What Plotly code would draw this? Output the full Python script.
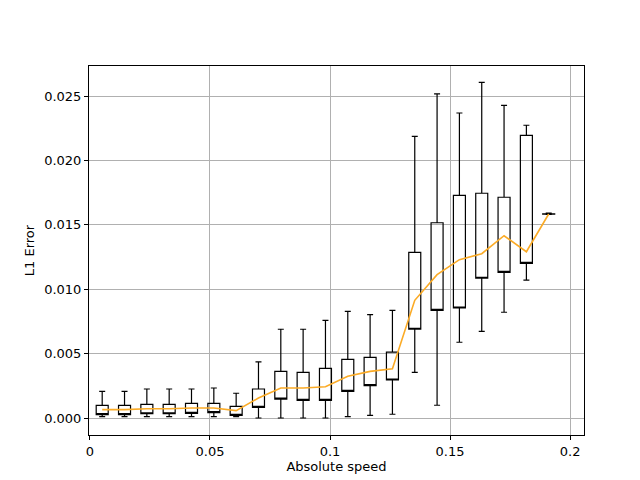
import plotly.graph_objects as go

# Box positions (absolute speed bin centres)
positions = [0.0051 + 0.0093 * i for i in range(21)]

# Box statistics
upper = [0.00207, 0.00207, 0.00225, 0.00225, 0.00225, 0.00233, 0.00192, 0.00435, 0.00689, 0.00689,
         0.00758, 0.00828, 0.00802, 0.00836, 0.02187, 0.02516, 0.02368, 0.02606, 0.02428, 0.02273, 0.01590]
q3 = [0.00098, 0.00098, 0.00106, 0.00106, 0.00114, 0.00114, 0.00091, 0.00225, 0.00362, 0.00355,
      0.00386, 0.00455, 0.00471, 0.00512, 0.01286, 0.01516, 0.01729, 0.01745, 0.01714, 0.02195, 0.01586]
q1 = [0.00026, 0.00026, 0.00033, 0.00033, 0.00036, 0.00041, 0.00021, 0.00083, 0.00147, 0.00137,
      0.00137, 0.00207, 0.00251, 0.00295, 0.00689, 0.00836, 0.00854, 0.01085, 0.01131, 0.01201, 0.01582]
lower = [0.0001, 0.0001, 0.0001, 0.0001, 0.0001, 0.0001, 0.0001, 0.0000, 0.0000, 0.0000,
         0.0000, 0.0001, 0.0002, 0.00029, 0.00355, 0.00099, 0.00588, 0.00673, 0.00821, 0.01071, 0.01580]
trend = [0.00065, 0.00065, 0.00072, 0.00072, 0.00078, 0.00078, 0.00057, 0.00155, 0.00233, 0.00233,
         0.00243, 0.00324, 0.00362, 0.00383, 0.00914, 0.01113, 0.01229, 0.01276, 0.01415, 0.01291, 0.01584]

fig = go.Figure()

for i, pos in enumerate(positions):
    fig.add_trace(go.Box(
        x=[pos], q1=[q1[i]], median=[q1[i]], q3=[q3[i]],
        lowerfence=[lower[i]], upperfence=[upper[i]],
        width=0.005, whiskerwidth=0.5,
        fillcolor="rgba(0,0,0,0)",
        line=dict(color="black", width=1.2),
        boxpoints=False, hoverinfo="skip", showlegend=False,
    ))

fig.add_trace(go.Scatter(
    x=positions, y=trend, mode="lines",
    line=dict(color="#fbab26", width=1.6), showlegend=False,
))

axis_style = dict(
    showgrid=True, gridcolor="#b0b0b0", gridwidth=1,
    showline=True, linecolor="black", linewidth=1, mirror=True,
    ticks="outside", ticklen=4, tickcolor="black", zeroline=False,
    tickfont=dict(size=13, color="black"), automargin=False,
)

fig.update_layout(
    width=640, height=480,
    margin=dict(l=81, r=64, t=58, b=53),
    plot_bgcolor="white", paper_bgcolor="white",
    font=dict(family="DejaVu Sans", size=13, color="black"),
    xaxis=dict(range=[-0.0004, 0.2058], tickvals=[0, 0.05, 0.1, 0.15, 0.2],
               ticktext=["0", "0.05", "0.1", "0.15", "0.2"],
               title=dict(text="Absolute speed", standoff=4, font=dict(size=13)), **axis_style),
    yaxis=dict(range=[-0.00132, 0.02733], tickvals=[0, 0.005, 0.01, 0.015, 0.02, 0.025],
               tickformat=".3f", title=dict(text="L1 Error", standoff=6, font=dict(size=13)), **axis_style),
)

fig.write_html("out.html")
